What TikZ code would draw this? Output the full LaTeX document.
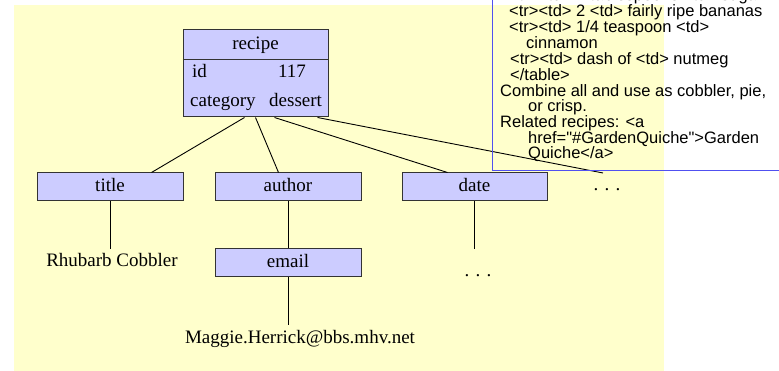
\documentclass[tikz,border=0pt]{standalone}
\usepackage{fontspec}
\setmainfont{Liberation Serif}
\newfontfamily\overlayfont{Liberation Sans}
\definecolor{bgyellow}{RGB}{255,255,204}
\definecolor{boxblue}{RGB}{204,204,255}
\definecolor{frameblue}{RGB}{80,80,240}
\begin{document}
\begin{tikzpicture}[x=1pt,y=-1pt,
  box/.style={draw=black!80, line width=1pt, fill=boxblue, minimum width=146pt,
    minimum height=28pt, inner sep=0pt, text height=13pt, text depth=4pt,
    font=\fontsize{19}{22}\selectfont},
  lbl/.style={inner xsep=0pt, inner ysep=5pt, text height=13pt, text depth=4pt,
    font=\fontsize{19}{22}\selectfont},
  cell/.style={inner sep=0pt, font=\fontsize{19}{22}\selectfont},
  conn/.style={line width=0.9pt, black},
  ov/.style={anchor=base west, inner sep=0pt, font=\overlayfont\fontsize{16.5}{16}\selectfont}]
\useasboundingbox (0,0) rectangle (779,371);
\fill[bgyellow] (14,5) rectangle (664,371);

% recipe box
\node[draw=black!80, line width=1pt, fill=boxblue, minimum width=145pt, minimum height=87pt, inner sep=0pt]
  (recipe) at (255.5,73.5) {};
\draw[black!80, line width=1pt] ([yshift=-30pt]recipe.north west) -- ([yshift=-30pt]recipe.north east);
\node[cell, anchor=base] (rhead) at (255.5,50) {recipe};
\node[cell, anchor=base west] (rid) at (192,78) {id};
\node[cell, anchor=base] (rval) at (292,78) {117};
\node[cell, anchor=base west] (rcat) at (190,107) {category};
\node[cell, anchor=base west] (rdes) at (269,107) {dessert};

% child boxes
\node[box] (title) at (110,187) {title};
\node[box] (author) at (288,187) {author};
\node[box, minimum width=145pt] (date) at (474.5,187) {date};
\node[box] (email) at (288,263) {email};

% leaf labels
\node[lbl, anchor=base] (rhubarb) at (112,267) {Rhubarb Cobbler};
\node[lbl, anchor=base] (maggie) at (300,343) {Maggie.Herrick@bbs.mhv.net};
\node[cell, anchor=base] (datedots) at (478,277) {. . .};
\node[cell, anchor=base] (more) at (607,191) {. . .};
\coordinate (datedotstop) at (474,249);
\coordinate (moretop) at (603,173);

% connectors
\draw[conn] ([xshift=62pt]recipe.south west) -- ([xshift=115pt]title.north west);
\draw[conn] ([xshift=73pt]recipe.south west) -- ([xshift=64pt]author.north west);
\draw[conn] ([xshift=92pt]recipe.south west) -- ([xshift=46pt]date.north west);
\draw[conn] ([xshift=135pt]recipe.south west) -- (moretop);
\draw[conn] (title.south) -- (title.south |- rhubarb.north);
\draw[conn] (author.south) -- (email.north);
\draw[conn] (email.south) -- (email.south |- maggie.north);
\draw[conn] (date.south -| datedotstop) -- (datedotstop);

% overlay text
\node[ov] (t1) at (509,1) {<tr><td> 2 tablespoons <td> sugar};
\node[ov] (t2) at (509,17) {<tr><td> 2 <td> fairly ripe bananas};
\node[ov] (t3) at (509,33) {<tr><td> 1/4 teaspoon <td>};
\node[ov] (t4) at (526,49) {cinnamon};
\node[ov] (t5) at (510,65) {<tr><td> dash of <td> nutmeg};
\node[ov] (t6) at (510,81) {</table>};
\node[ov] (t7) at (500,97) {Combine all and use as cobbler, pie,};
\node[ov] (t8) at (528,112) {or crisp.};
\node[ov] (t9) at (500,128) {Related recipes: <a};
\node[ov] (t10) at (528,144) {href="\#GardenQuiche">Garden};
\node[ov] (t11) at (528,159) {Quiche</a>};
\draw[frameblue, line width=1pt] (492,-5) -- (492,170.5) -- (785,170.5);
\end{tikzpicture}
\end{document}
